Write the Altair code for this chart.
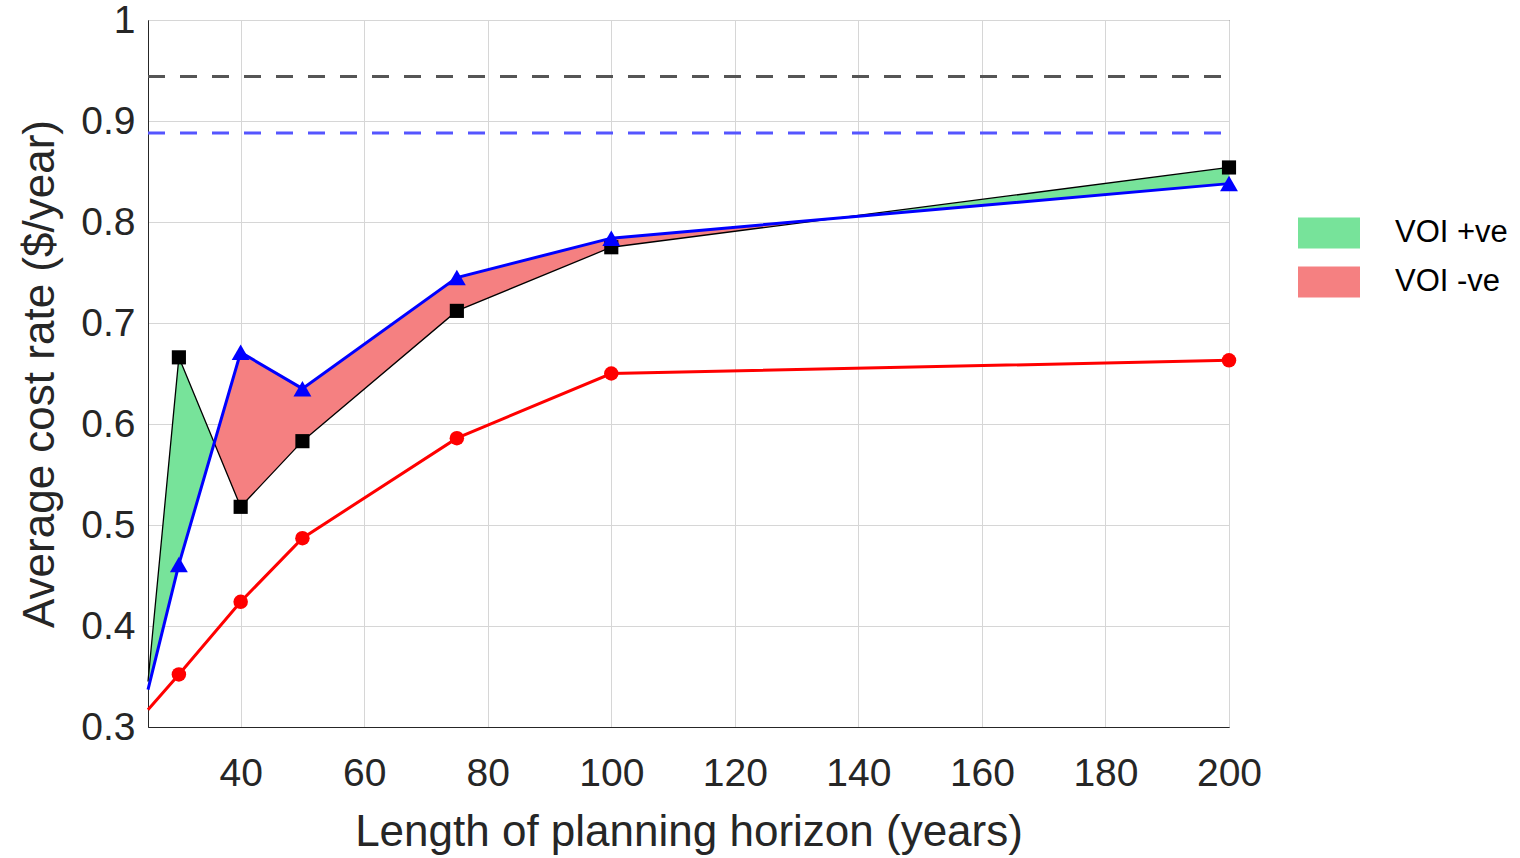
import altair as alt
import pandas as pd

# ---- data ----
horizon = [25, 30, 40, 50, 75, 100, 200]
cost_black = [0.345, 0.666, 0.518, 0.583, 0.712, 0.775, 0.854]
cost_blue = [0.337, 0.461, 0.671, 0.635, 0.745, 0.784, 0.838]
cost_red = [0.317, 0.352, 0.424, 0.487, 0.586, 0.650, 0.663]
ref_black = 0.944
ref_blue = 0.888
x_ticks = [40, 60, 80, 100, 120, 140, 160, 180, 200]
y_ticks = [0.3, 0.4, 0.5, 0.6, 0.7, 0.8, 0.9, 1.0]
legend_labels = ["VOI +ve", "VOI -ve"]
legend_colors = ["#77e39a", "#f58081"]

# ---- build fill polygons between black and blue, split at crossings ----
rows = []
group = 0
def sign(i):
    return legend_labels[0] if cost_black[i] >= cost_blue[i] else legend_labels[1]

cur = sign(0)
for i in range(len(horizon)):
    rows.append(dict(x=horizon[i], y=cost_black[i], y2=cost_blue[i], voi=cur, g=group))
    if i + 1 < len(horizon):
        nxt = sign(i + 1)
        if nxt != cur:
            d0 = cost_black[i] - cost_blue[i]
            d1 = cost_black[i + 1] - cost_blue[i + 1]
            t = d0 / (d0 - d1)
            xc = horizon[i] + t * (horizon[i + 1] - horizon[i])
            yc = cost_black[i] + t * (cost_black[i + 1] - cost_black[i])
            rows.append(dict(x=xc, y=yc, y2=yc, voi=cur, g=group))
            group += 1
            cur = nxt
            rows.append(dict(x=xc, y=yc, y2=yc, voi=cur, g=group))
fill_df = pd.DataFrame(rows)

lines_df = pd.DataFrame({"x": horizon, "black": cost_black, "blue": cost_blue, "red": cost_red})
ref_df = pd.DataFrame({"v": [ref_black, ref_blue], "c": ["#555555", "#5555ff"]})

FONT = "Liberation Sans"
TXT = "#262626"
W, H = 1081, 707

xs = alt.Scale(domain=[25, 200], nice=False, zero=False)
ys = alt.Scale(domain=[0.3, 1.0], nice=False, zero=False)

x_axis = alt.Axis(values=x_ticks, title="Length of planning horizon (years)", grid=True,
                  ticks=False, tickSize=0, labelPadding=27, labelFontSize=39, titleFontSize=44,
                  titleBaseline="alphabetic", titleY=118, labelFlush=False)
y_axis = alt.Axis(values=y_ticks, title="Average cost rate ($/year)", grid=True, format=".1~f",
                  ticks=False, tickSize=0, labelPadding=13, labelFontSize=39, titleFontSize=44,
                  titleBaseline="alphabetic", titleX=-95, labelFlush=False)

fill = alt.Chart(fill_df).mark_area(opacity=1, interpolate="linear").encode(
    x=alt.X("x:Q", scale=xs, axis=x_axis),
    y=alt.Y("y:Q", scale=ys, axis=y_axis),
    y2="y2:Q",
    detail="g:N",
    color=alt.Color("voi:N", scale=alt.Scale(domain=legend_labels, range=legend_colors),
                    legend=alt.Legend(title=None)),
)

refs = alt.Chart(ref_df).mark_rule(strokeDash=[17, 15], strokeWidth=3).encode(
    y="v:Q", x=alt.value(0), x2=alt.value(W), color=alt.Color("c:N", scale=None)
)

base = alt.Chart(lines_df)
pts = base.transform_filter(alt.datum.x > 25)
red_line = base.mark_line(color="#ff0000", strokeWidth=3).encode(x="x:Q", y="red:Q")
red_pts = pts.mark_point(shape="circle", filled=True, color="#ff0000", size=210, opacity=1).encode(x="x:Q", y="red:Q")
black_line = base.mark_line(color="#000000", strokeWidth=1.3).encode(x="x:Q", y="black:Q")
black_pts = pts.mark_point(shape="square", filled=True, color="#000000", size=200, opacity=1).encode(x="x:Q", y="black:Q")
blue_line = base.mark_line(color="#0000ff", strokeWidth=3).encode(x="x:Q", y="blue:Q")
blue_pts = pts.mark_point(shape="triangle-up", filled=True, color="#0000ff", size=320, opacity=1).encode(x="x:Q", y="blue:Q")

chart = alt.layer(
    fill, refs, red_line, red_pts, black_line, black_pts, blue_line, blue_pts
).properties(
    width=W, height=H,
    autosize=alt.AutoSizeParams(type="none"),
    padding={"left": 148, "top": 20, "right": 291, "bottom": 131},
).configure(
    font=FONT,
).configure_axis(
    labelFont=FONT, titleFont=FONT, labelColor=TXT, titleColor=TXT,
    titleFontWeight="normal", domainColor=TXT, domainWidth=1,
    gridColor="#d6d6d6", gridWidth=1,
).configure_view(
    stroke=TXT, strokeWidth=1,
).configure_legend(
    orient="none", legendX=1150, legendY=182, padding=0,
    symbolType="M-1,-0.5H1V0.5H-1Z", symbolSize=3844, symbolStrokeWidth=0,
    symbolOpacity=1, labelFont=FONT, labelFontSize=31, labelColor="#000000",
    labelOffset=35, rowPadding=2,
)

chart.save("out.html", embed_options={"renderer": "svg", "actions": False})
